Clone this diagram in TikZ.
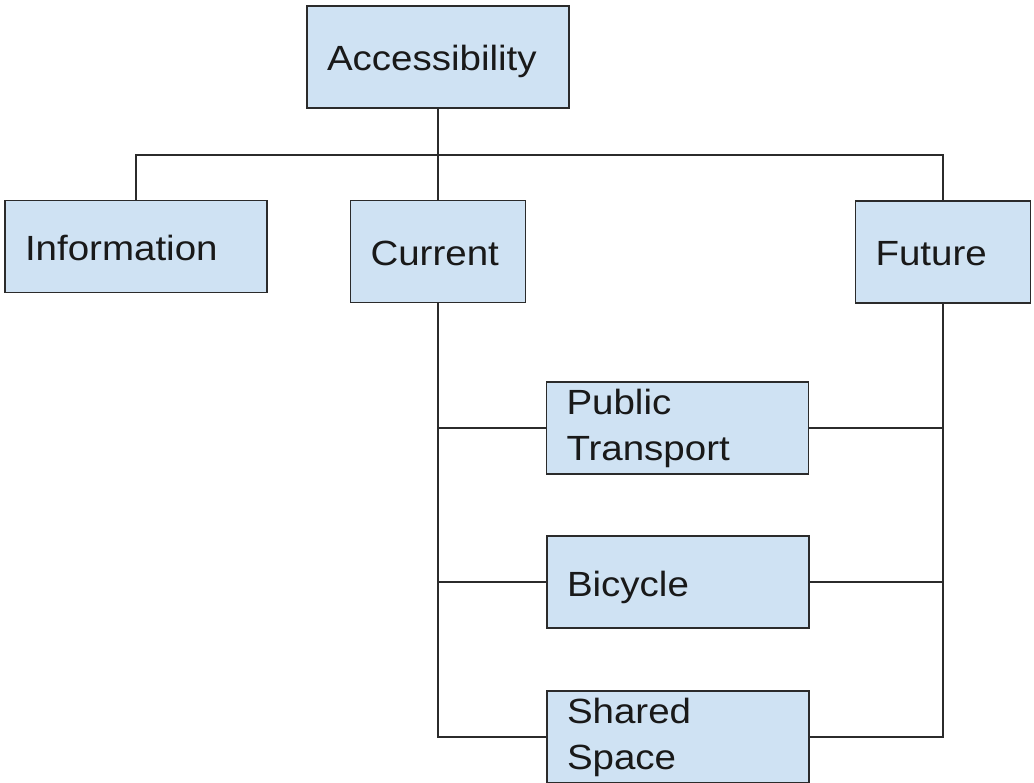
\documentclass[tikz,border=0pt]{standalone}
\usepackage{fontspec}
\setmainfont{Liberation Sans}[FakeStretch=1.1]
\usepackage{tikz}
\definecolor{boxblue}{HTML}{CFE2F3}
\definecolor{edge}{HTML}{2B2B2B}

\begin{document}
\begin{tikzpicture}[x=1pt, y=-1pt,
    every node/.style={rectangle, draw=edge, fill=boxblue, line width=1.6pt,
      inner xsep=20pt, inner ysep=0pt, align=left, text=black!90,
      font=\fontsize{35}{46}\selectfont},
    wide/.style={text width=222pt, minimum height=92pt},
    narrow/.style={text width=135pt, minimum height=102pt},
    oneline/.style={text height=28pt, text depth=0pt},
    link/.style={draw=edge, line width=1.6pt}]
    \useasboundingbox (0,0) rectangle (1034,783);

    \node[wide, oneline, minimum height=102pt] (acc) at (438,57) {Accessibility};
    \node[wide, oneline] (info) at (136,246.5) {Information};
    \node[narrow, oneline] (cur) at (438,251.5) {Current};
    \node[narrow, oneline] (fut) at (943,252) {Future};
    \node[wide] (pub) at (677.5,428) {Public\\Transport};
    \node[wide, oneline] (bic) at (678,582) {Bicycle};
    \node[wide] (sha) at (678,737) {Shared\\Space};

    \coordinate (bus) at (0,155);

    \draw[link] (acc) -- (cur);
    \draw[link] (info.north) -- (info.north |- bus) -- (fut.north |- bus) -- (fut.north);
    \draw[link] (cur.south) -- (cur.south |- sha.west) -- (sha.west);
    \draw[link] (cur.south |- pub.west) -- (pub.west);
    \draw[link] (cur.south |- bic.west) -- (bic.west);
    \draw[link] (fut.south) -- (fut.south |- sha.east) -- (sha.east);
    \draw[link] (fut.south |- pub.east) -- (pub.east);
    \draw[link] (fut.south |- bic.east) -- (bic.east);
\end{tikzpicture}
\end{document}
